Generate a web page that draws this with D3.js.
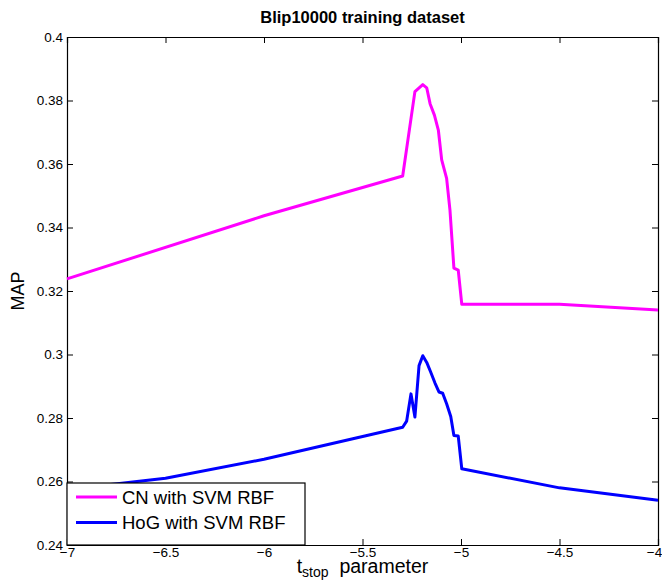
<!DOCTYPE html>
<html><head><meta charset="utf-8">
<script src="https://cdn.jsdelivr.net/npm/d3@7"></script>
<style>body{margin:0;background:#fff}svg{display:block}</style>
</head><body>
<script>
const xTicks = [-7, -6.5, -6, -5.5, -5, -4.5, -4];
const yTicks = [0.24, 0.26, 0.28, 0.3, 0.32, 0.34, 0.36, 0.38, 0.4];
const cnX = [-7, -6, -5.296, -5.234, -5.194, -5.174, -5.157, -5.135, -5.115, -5.098, -5.073, -5.056, -5.036, -5.014, -4.996, -4.5, -4];
const cnY = [0.3238, 0.3437, 0.3562, 0.3828, 0.3850, 0.3840, 0.3790, 0.3754, 0.3707, 0.3613, 0.3555, 0.3455, 0.3272, 0.3266, 0.3158, 0.3158, 0.3140];
const hogX = [-7, -6.5, -6, -5.296, -5.276, -5.254, -5.234, -5.213, -5.194, -5.174, -5.154, -5.132, -5.112, -5.093, -5.073, -5.052, -5.036, -5.014, -4.996, -4.5, -4];
const hogY = [0.2575, 0.2610, 0.2670, 0.2771, 0.2790, 0.2876, 0.2803, 0.2965, 0.2996, 0.2975, 0.2945, 0.2910, 0.2882, 0.2878, 0.2845, 0.2805, 0.2745, 0.2743, 0.2640, 0.2580, 0.2541];
const seriesNames = ["CN with SVM RBF", "HoG with SVM RBF"];
const colors = ["#ff00ff", "#0000ff"];

const W = 662, H = 581;
const m = {l: 67, r: 4, t: 37, b: 36};
const svg = d3.select("body").append("svg").attr("width", W).attr("height", H)
  .style("font-family", "'Liberation Sans', Arial, sans-serif");
const x = d3.scaleLinear().domain([-7, -4]).range([m.l, W - m.r]);
const y = d3.scaleLinear().domain([0.24, 0.4]).range([H - m.b, m.t]);

const fmt = d => String(d).replace("-", "\u2212");
const tl = 6;
const gB = svg.append("g").attr("transform", `translate(0,${y(0.24)})`)
  .call(d3.axisBottom(x).tickValues(xTicks).tickSize(-tl).tickPadding(2).tickFormat(fmt));
const gT = svg.append("g").attr("transform", `translate(0,${y(0.4)})`)
  .call(d3.axisTop(x).tickValues(xTicks).tickSize(-tl).tickFormat(""));
const gL = svg.append("g").attr("transform", `translate(${x(-7)},0)`)
  .call(d3.axisLeft(y).tickValues(yTicks).tickSize(-tl).tickPadding(4).tickFormat(d => String(d)));
const gR = svg.append("g").attr("transform", `translate(${x(-4)},0)`)
  .call(d3.axisRight(y).tickValues(yTicks).tickSize(-tl).tickFormat(""));
[gB, gT, gL, gR].forEach(g => {
  g.select(".domain").attr("stroke", "#000").attr("stroke-width", 1.2);
  g.selectAll(".tick line").attr("stroke", "#000").attr("stroke-width", 1);
  g.selectAll("text").attr("fill", "#000").style("font-size", "13.5px")
   .style("font-family", "'Liberation Sans', Arial, sans-serif");
});
gB.selectAll(".tick text").filter(d => d === -4).attr("x", -4);

const line = d3.line().x(d => x(d[0])).y(d => y(d[1]));
const series = [d3.zip(cnX, cnY), d3.zip(hogX, hogY)];
series.forEach((s, i) => {
  svg.append("path").datum(s).attr("d", line).attr("fill", "none")
    .attr("stroke", colors[i]).attr("stroke-width", 3).attr("stroke-linejoin", "round");
});

const lg = svg.append("g");
lg.append("rect").attr("x", x(-7)).attr("y", 483).attr("width", 238).attr("height", y(0.24) - 483)
  .attr("fill", "#fff").attr("stroke", "#000").attr("stroke-width", 1.2);
seriesNames.forEach((n, i) => {
  const yy = 497 + i * 25.5;
  lg.append("line").attr("x1", 76).attr("x2", 117).attr("y1", yy).attr("y2", yy)
    .attr("stroke", colors[i]).attr("stroke-width", 3);
  lg.append("text").attr("x", 122).attr("y", yy + 6.5).text(n)
    .style("font-size", "18.5px").attr("fill", "#000");
});

svg.append("text").attr("x", (x(-7) + x(-4)) / 2).attr("y", 23).attr("text-anchor", "middle")
  .style("font-size", "16.5px").style("font-weight", "bold").text("Blip10000 training dataset");
svg.append("text").attr("transform", `translate(24,${(y(0.24) + y(0.4)) / 2}) rotate(-90)`)
  .attr("text-anchor", "middle").style("font-size", "18px").text("MAP");
const xl = svg.append("text").attr("x", (x(-7) + x(-4)) / 2).attr("y", 573).attr("text-anchor", "middle").style("font-size", "19.5px");
xl.append("tspan").text("t");
xl.append("tspan").attr("dy", 4).style("font-size", "14px").text("stop");
xl.append("tspan").attr("dy", -4).text("\u00a0 parameter");
</script>
</body></html>
